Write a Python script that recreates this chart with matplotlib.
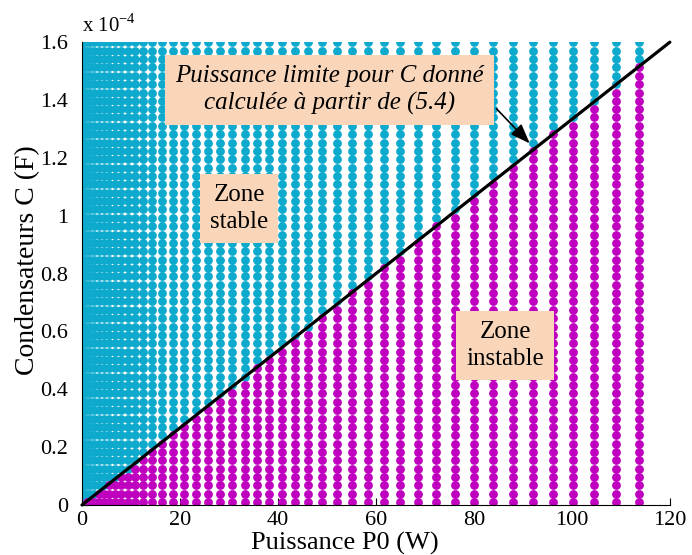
import numpy as np
import matplotlib
matplotlib.use("Agg")
import matplotlib.pyplot as plt

plt.rcParams['font.family'] = ['Liberation Serif', 'DejaVu Serif']
plt.rcParams['mathtext.fontset'] = 'custom'
plt.rcParams['mathtext.rm'] = 'Liberation Serif'

# Grid of tested powers (W)
P_values = [0, 0.15, 0.5, 1.0, 1.7, 2.5, 3.4, 4.4, 5.5, 6.7, 8.0, 9.4, 10.9, 12.5,
            14.3, 16.3, 18.5, 20.9, 23.3, 25.7, 28.2, 30.7, 33.2, 35.7, 38.2, 40.8,
            43.4, 46.1, 49.0, 52.0, 55.1, 58.3, 61.6, 65.0, 68.6, 72.3, 76.1, 80.0,
            84.0, 88.0, 92.1, 96.2, 100.3, 104.5, 109.0, 113.7]
# Grid of tested capacitors (x 1e-4 F)
C_values_e4 = [0.010, 0.039, 0.068, 0.097, 0.126, 0.155, 0.183, 0.212, 0.241, 0.270,
               0.299, 0.328, 0.357, 0.386, 0.415, 0.444, 0.473, 0.501, 0.530, 0.559,
               0.588, 0.617, 0.646, 0.675, 0.704, 0.733, 0.762, 0.790, 0.819, 0.848,
               0.877, 0.906, 0.935, 0.964, 0.993, 1.022, 1.051, 1.079, 1.108, 1.137,
               1.166, 1.195, 1.224, 1.253, 1.282, 1.311, 1.340, 1.368, 1.397, 1.426,
               1.455, 1.484, 1.513, 1.542, 1.571, 1.600]
# Limit power line (5.4)
line_P = [0, 120]
line_C_e4 = [0, 1.6]

x_ticks = [0, 20, 40, 60, 80, 100, 120]
y_ticks = [0, 0.2, 0.4, 0.6, 0.8, 1.0, 1.2, 1.4, 1.6]
y_tick_labels = ['0', '0.2', '0.4', '0.6', '0.8', '1', '1.2', '1.4', '1.6']

cyan = '#0eaacd'
magenta = '#bf00bf'
peach = '#f9d6ba'

PP, CC = np.meshgrid(P_values, C_values_e4)
PP = PP.ravel(); CC = CC.ravel()
limit = np.interp(PP, line_P, line_C_e4)
stable = CC > limit

fig = plt.figure(figsize=(6.92, 5.55), dpi=100)
ax = fig.add_axes([0.1185, 0.0901, 0.968 - 0.1185, 0.924 - 0.0901])

ax.scatter(PP[stable], CC[stable], s=40, c=cyan, linewidths=0, zorder=2)
ax.scatter(PP[~stable], CC[~stable], s=40, c=magenta, linewidths=0, zorder=2)
ax.plot(line_P, line_C_e4, color='black', lw=2.3, zorder=3, clip_on=False,
        solid_capstyle='round')

ax.set_xlim(0, 120)
ax.set_ylim(0, 1.6)
ax.set_xticks(x_ticks)
ax.set_yticks(y_ticks)
ax.set_yticklabels(y_tick_labels)
ax.tick_params(direction='in', labelsize=16, length=5, width=0.8)
ax.tick_params(axis='x', pad=4)
ax.tick_params(axis='y', pad=10)
ax.spines['top'].set_visible(False)
ax.spines['right'].set_visible(False)
ax.set_xlabel('Puissance P0 (W)', fontsize=19)
ax.set_ylabel('Condensateurs C (F)', fontsize=20)
ax.xaxis.set_label_coords(0.447, -0.058, transform=ax.transAxes)
ax.yaxis.set_label_coords(-0.071, 0.529, transform=ax.transAxes)
ax.text(0.0, 1.012, r'x 10$^{-4}$', transform=ax.transAxes, fontsize=15,
        ha='left', va='bottom')

box = dict(boxstyle='square,pad=0.4', facecolor=peach, edgecolor='none')
ax.text(50.5, 1.435, 'Puissance limite pour C donné\ncalculée à partir de (5.4)',
        fontsize=18, style='italic', ha='center', va='center', linespacing=1.3,
        bbox=dict(boxstyle='square,pad=0.4', facecolor=peach, edgecolor='none'),
        zorder=5)
ax.text(32.1, 1.026, 'Zone\nstable', fontsize=18, ha='center', va='center',
        linespacing=1.3, bbox=box, zorder=5)
ax.text(86.4, 0.55, 'Zone\ninstable', fontsize=18, ha='center', va='center',
        linespacing=1.3, bbox=box, zorder=5)
ax.annotate('', xy=(91.4, 1.25), xytext=(84.6, 1.37),
            arrowprops=dict(arrowstyle='-|>,head_length=1.2,head_width=0.45',
                            color='black', lw=1.2, shrinkA=0, shrinkB=0),
            zorder=6)

fig.savefig('out.png', dpi=100)
